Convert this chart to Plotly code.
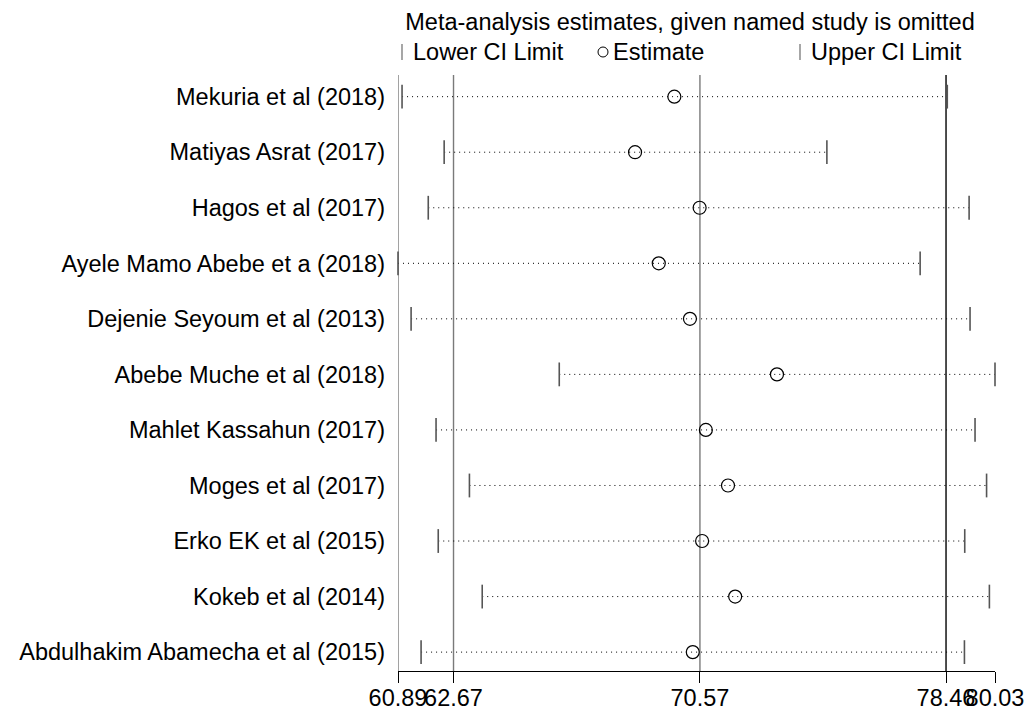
import plotly.graph_objects as go

studies = [
    "Mekuria et al (2018)",
    "Matiyas Asrat (2017)",
    "Hagos et al (2017)",
    "Ayele Mamo Abebe et a (2018)",
    "Dejenie Seyoum et al (2013)",
    "Abebe Muche et al (2018)",
    "Mahlet Kassahun (2017)",
    "Moges et al (2017)",
    "Erko EK et al (2015)",
    "Kokeb et al (2014)",
    "Abdulhakim Abamecha et al (2015)",
]
lower = [61.02, 62.37, 61.86, 60.89, 61.31, 66.06, 62.11, 63.18, 62.18, 63.59, 61.63]
estimate = [69.75, 68.49, 70.56, 69.25, 70.25, 73.04, 70.76, 71.47, 70.64, 71.70, 70.34]
upper = [78.50, 74.64, 79.20, 77.63, 79.23, 80.03, 79.39, 79.76, 79.06, 79.85, 79.05]

x_min, x_max = 60.89, 80.03
pooled_lower, pooled_est, pooled_upper = 62.67, 70.57, 78.46
x_ticks = [x_min, pooled_lower, pooled_est, pooled_upper, x_max]
x_ticklabels = ["60.89", "62.67", "70.57", "78.46", "80.03"]

FONT = "Liberation Sans, Arial, sans-serif"
FS = 23.5
rows = list(range(1, len(studies) + 1))

fig = go.Figure()

# dotted CI lines
for i, r in enumerate(rows):
    fig.add_trace(go.Scatter(
        x=[lower[i], upper[i]], y=[r, r], mode="lines",
        line=dict(color="black", width=1, dash="1px,4px"),
        hoverinfo="skip", showlegend=False, cliponaxis=False))

# lower caps
fig.add_trace(go.Scatter(
    x=lower, y=rows, mode="markers",
    marker=dict(symbol="line-ns", size=17, line=dict(color="#555555", width=1.6)),
    showlegend=False, cliponaxis=False))
# upper caps
fig.add_trace(go.Scatter(
    x=upper, y=rows, mode="markers",
    marker=dict(symbol="line-ns", size=17, line=dict(color="#555555", width=1.6)),
    showlegend=False, cliponaxis=False))
# estimates
fig.add_trace(go.Scatter(
    x=estimate, y=rows, mode="markers",
    marker=dict(symbol="circle-open", size=13, color="black", line=dict(color="black", width=1.2)),
    showlegend=False, cliponaxis=False))

# reference vertical lines
ref_lines = [(x_min, "#7a7a7a"), (pooled_lower, "#7a7a7a"), (pooled_est, "#7a7a7a"), (pooled_upper, "black")]
for xv, col in ref_lines:
    fig.add_shape(type="line", xref="x", yref="paper", x0=xv, x1=xv, y0=0, y1=1,
                  line=dict(color=col, width=1.4), layer="below")

# page offset (body margin) = 8px; plot area spans x 398..995, y 75..671 on screen
def px_x(p):
    return (p - 398) / 597.0

def px_y(p):
    return (671 - p) / 596.0

leg_y = 52
fig.add_shape(type="line", xref="paper", yref="paper", x0=px_x(402), x1=px_x(402),
              y0=px_y(60), y1=px_y(44), line=dict(color="#777777", width=1.3))
fig.add_shape(type="line", xref="paper", yref="paper", x0=px_x(800), x1=px_x(800),
              y0=px_y(60), y1=px_y(44), line=dict(color="#777777", width=1.3))
fig.add_shape(type="circle", xref="paper", yref="paper", x0=px_x(598), x1=px_x(608),
              y0=px_y(57), y1=px_y(47), line=dict(color="black", width=1))
for txt, xp in [("Lower CI Limit", 411), ("Estimate", 611), ("Upper CI Limit", 809)]:
    fig.add_annotation(text=txt, xref="paper", yref="paper", x=px_x(xp), y=px_y(leg_y),
                       xanchor="left", yanchor="middle", showarrow=False,
                       font=dict(family=FONT, size=FS, color="black"))

W, H = 1025, 702
fig.update_layout(
    width=W, height=H,
    margin=dict(l=390, r=38, t=67, b=39),
    paper_bgcolor="white", plot_bgcolor="white",
    title=dict(text="Meta-analysis estimates, given named study is omitted",
               xref="paper", x=px_x(690), xanchor="center",
               yref="container", y=1 - (22 - 8) / H, yanchor="middle",
               font=dict(family=FONT, size=FS, color="black")),
    font=dict(family=FONT, size=FS, color="black"),
    xaxis=dict(range=[x_min, x_max], tickvals=x_ticks, ticktext=x_ticklabels,
               showgrid=False, zeroline=False, showline=True, linecolor="black", linewidth=1.4,
               ticks="outside", ticklen=11, tickwidth=1.4, tickcolor="black",
               tickangle=0, automargin=False, ticklabelstandoff=-5,
               tickfont=dict(family=FONT, size=FS, color="black")),
    yaxis=dict(range=[11.34, 0.61], tickvals=rows, ticktext=studies,
               showgrid=False, zeroline=False, showline=False, ticks="",
               ticklabelstandoff=12, automargin=False,
               tickfont=dict(family=FONT, size=FS, color="black")),
    showlegend=False,
)

fig.write_html("out.html")
